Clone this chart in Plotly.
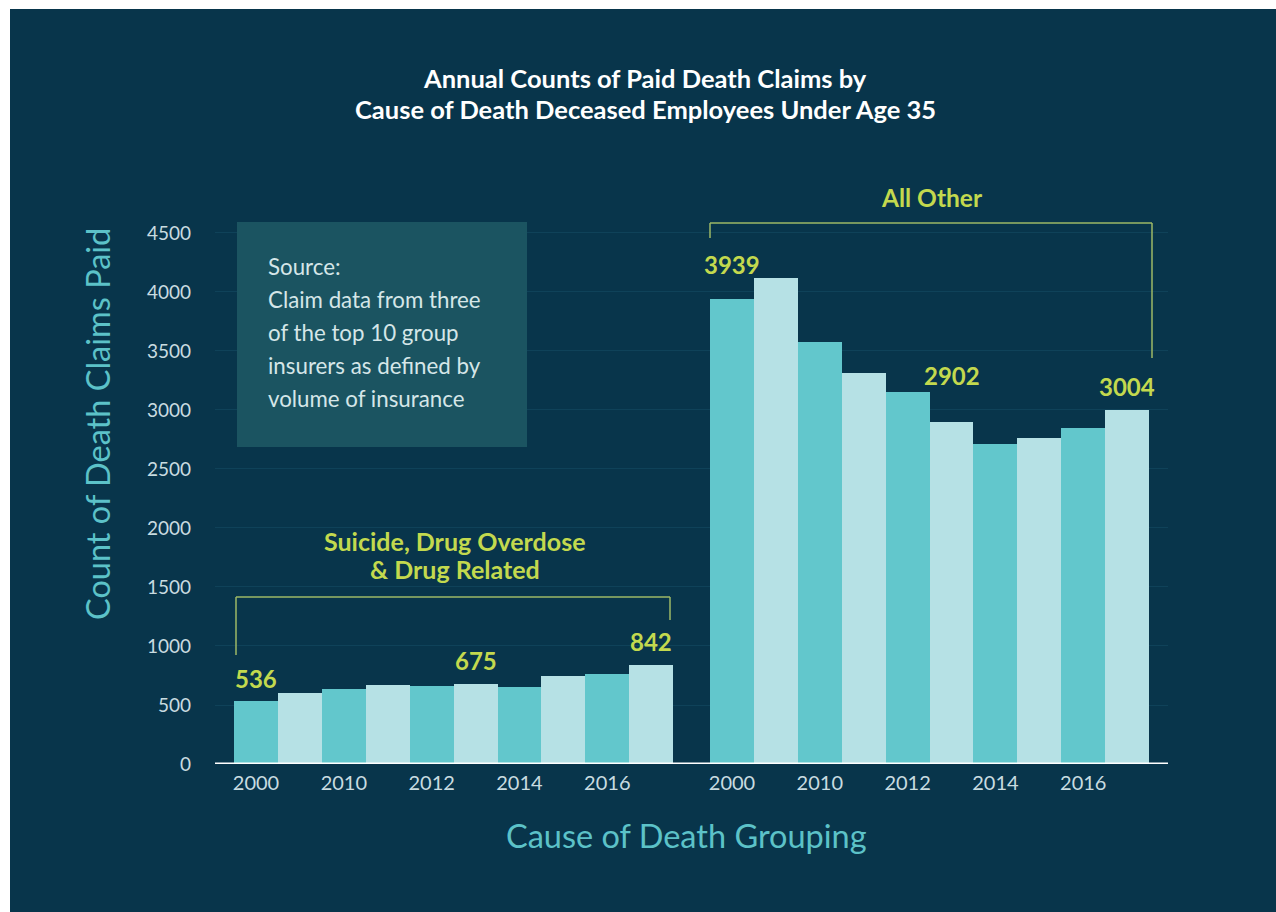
import plotly.graph_objects as go

# ---------------- data ----------------
years = ["2000", "2009", "2010", "2011", "2012", "2013", "2014", "2015", "2016", "2017"]
tick_years = ["2000", "2010", "2012", "2014", "2016"]
groups = ["Suicide, Drug Overdose<br>& Drug Related", "All Other"]
suicide_drug = [536, 600, 638, 668, 663, 675, 652, 742, 765, 842]
all_other = [3939, 4120, 3580, 3310, 3150, 2902, 2715, 2765, 2850, 3004]
labelled_idx = [0, 5, 9]          # bars carrying a value label
y_ticks = [0, 500, 1000, 1500, 2000, 2500, 3000, 3500, 4000, 4500]

# ---------------- style ----------------
W, H = 1276, 912
PL, PT, PR, PB = 215, 222, 1168, 764    # plot area in screenshot pixels
L, T = PL, PT
PW, PH = PR - PL, PB - PT
R, B = W - L - PW, H - T - PH
BG = "#08354B"
DARK_BAR = "#62C7CC"
LIGHT_BAR = "#B6E1E5"
ACCENT = "#C3D94E"
BRACKET = "#9DB866"
TICK = "#C9DCE0"
AXTITLE = "#5CC2C8"
FONT = "Lato"

GROUP_OFFSET = 10.84
XR = [-0.934, 20.77]
YR = [0, 4593]


def px(xpix):
    return (xpix - PL) / PW


def py(ypix):
    return (PB - ypix) / PH


x_left = [i for i in range(len(years))]
x_right = [i + GROUP_OFFSET for i in range(len(years))]
colors = [DARK_BAR if i % 2 == 0 else LIGHT_BAR for i in range(len(years))]

fig = go.Figure()
for xs, vals, name in [(x_left, suicide_drug, groups[0]), (x_right, all_other, groups[1])]:
    fig.add_trace(go.Bar(x=xs, y=vals, width=1.0, marker=dict(color=colors, line=dict(width=0)),
                         name=name, showlegend=False, hoverinfo="y"))

tickvals = [x_left[i] for i in (0, 2, 4, 6, 8)] + [x_right[i] for i in (0, 2, 4, 6, 8)]
ticktext = tick_years + tick_years

annotations = []
# value labels
shifts_left = [22, 24, 23]
shifts_right = [35, 46, 23]
for k, i in enumerate(labelled_idx):
    annotations.append(dict(x=x_left[i], y=suicide_drug[i], xref="x", yref="y", text=f"<b>{suicide_drug[i]}</b>",
                            showarrow=False, yanchor="middle", yshift=shifts_left[k],
                            font=dict(family=FONT, size=24, color=ACCENT)))
    annotations.append(dict(x=x_right[i], y=all_other[i], xref="x", yref="y", text=f"<b>{all_other[i]}</b>",
                            showarrow=False, yanchor="middle", yshift=shifts_right[k],
                            font=dict(family=FONT, size=24, color=ACCENT)))

# title lines
for txt, ypix in [("Annual Counts of Paid Death Claims by", 78),
                  ("Cause of Death Deceased Employees Under Age 35", 109)]:
    annotations.append(dict(x=px(645), y=py(ypix), xref="paper", yref="paper", text=f"<b>{txt}</b>",
                            showarrow=False, xanchor="center", yanchor="middle",
                            font=dict(family=FONT, size=25.5, color="white")))

# group labels
annotations.append(dict(x=px(455), y=py(541), xref="paper", yref="paper", text="<b>Suicide, Drug Overdose</b>",
                        showarrow=False, xanchor="center", yanchor="middle",
                        font=dict(family=FONT, size=25, color=ACCENT)))
annotations.append(dict(x=px(455), y=py(569), xref="paper", yref="paper", text="<b>& Drug Related</b>",
                        showarrow=False, xanchor="center", yanchor="middle",
                        font=dict(family=FONT, size=25, color=ACCENT)))
annotations.append(dict(x=px(932), y=py(198), xref="paper", yref="paper", text="<b>All Other</b>",
                        showarrow=False, xanchor="center", yanchor="middle",
                        font=dict(family=FONT, size=24.5, color=ACCENT)))

# source box text
src_lines = ["Source:", "Claim data from three", "of the top 10 group",
             "insurers as defined by", "volume of insurance"]
for k, line in enumerate(src_lines):
    annotations.append(dict(x=px(266), y=py(266 + 33 * k), xref="paper", yref="paper", text=line,
                            showarrow=False, xanchor="left", yanchor="middle",
                            font=dict(family=FONT, size=22.3, color="#D5E6E8")))

# axis titles
annotations.append(dict(x=px(686), y=py(835), xref="paper", yref="paper", text="Cause of Death Grouping",
                        showarrow=False, xanchor="center", yanchor="middle",
                        font=dict(family=FONT, size=32.5, color=AXTITLE)))
annotations.append(dict(x=px(97), y=py(424), xref="paper", yref="paper", text="Count of Death Claims Paid",
                        showarrow=False, xanchor="center", yanchor="middle", textangle=-90,
                        font=dict(family=FONT, size=32.5, color=AXTITLE)))

shapes = [
    # white border strips (top and left)
    dict(type="rect", xref="paper", yref="paper", x0=px(0), x1=px(10), y0=py(0), y1=py(912),
         fillcolor="white", line=dict(width=0), layer="above"),
    dict(type="rect", xref="paper", yref="paper", x0=px(0), x1=px(1276), y0=py(0), y1=py(9),
         fillcolor="white", line=dict(width=0), layer="above"),
    # source box
    dict(type="rect", xref="paper", yref="paper", x0=px(237), x1=px(527), y0=py(222), y1=py(447),
         fillcolor="#1B5461", line=dict(width=0), layer="above"),
    # left bracket
    dict(type="line", xref="paper", yref="paper", x0=px(236), x1=px(670), y0=py(597), y1=py(597),
         line=dict(color=BRACKET, width=1.5)),
    dict(type="line", xref="paper", yref="paper", x0=px(236), x1=px(236), y0=py(597), y1=py(655),
         line=dict(color=BRACKET, width=1.5)),
    dict(type="line", xref="paper", yref="paper", x0=px(670), x1=px(670), y0=py(597), y1=py(620),
         line=dict(color=BRACKET, width=1.5)),
    # right bracket
    dict(type="line", xref="paper", yref="paper", x0=px(710), x1=px(1152), y0=py(223), y1=py(223),
         line=dict(color=BRACKET, width=1.5)),
    dict(type="line", xref="paper", yref="paper", x0=px(710), x1=px(710), y0=py(223), y1=py(238),
         line=dict(color=BRACKET, width=1.5)),
    dict(type="line", xref="paper", yref="paper", x0=px(1152), x1=px(1152), y0=py(223), y1=py(358),
         line=dict(color=BRACKET, width=1.5)),
    # baseline
    dict(type="line", xref="paper", yref="y", x0=0, x1=1, y0=0, y1=0,
         line=dict(color="white", width=3), layer="above"),
]

fig.update_layout(
    width=W, height=H,
    margin=dict(l=L, r=R, t=T, b=B, pad=0),
    paper_bgcolor=BG, plot_bgcolor=BG,
    bargap=0, barmode="overlay",
    annotations=annotations, shapes=shapes,
    font=dict(family=FONT, color=TICK),
    xaxis=dict(range=XR, tickvals=tickvals, ticktext=ticktext, showgrid=False, zeroline=False,
               showline=False, ticks="", ticklabelstandoff=5,
               tickfont=dict(family=FONT, size=20, color=TICK), fixedrange=True),
    yaxis=dict(range=YR, tickvals=y_ticks, showgrid=True, gridcolor="#0F4259", gridwidth=1,
               zeroline=False, showline=False, ticks="", ticklabelstandoff=23,
               tickfont=dict(family=FONT, size=19, color=TICK), fixedrange=True),
)

fig.write_html("out.html", config={"displayModeBar": False},
               post_script="document.body.style.margin='0';document.body.style.overflow='hidden';")
